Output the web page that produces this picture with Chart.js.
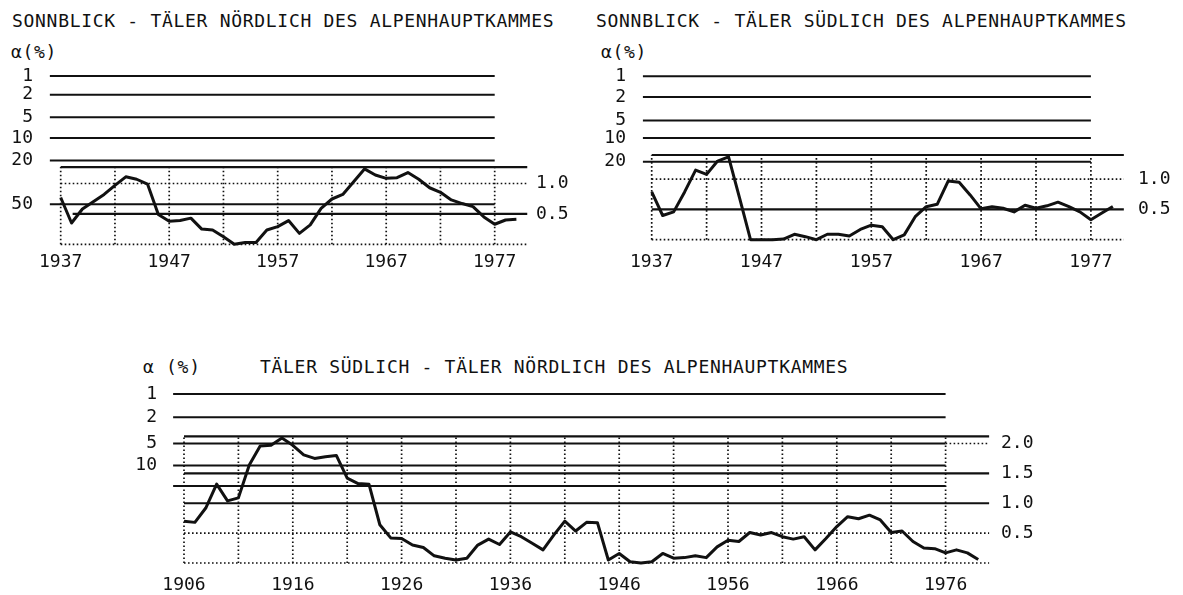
<!DOCTYPE html>
<html lang="de">
<head>
<meta charset="UTF-8">
<title>Sonnblick - Täler nördlich und südlich des Alpenhauptkammes</title>
<style>
  body { margin: 0; background: #fff; }
  #page { position: relative; width: 1183px; height: 595px; overflow: hidden; background: #fff; }
  canvas { position: absolute; }
  .txt {
    position: absolute;
    font-family: "DejaVu Sans Mono", monospace;
    font-size: 18px;
    line-height: 18px;
    color: #111;
    white-space: pre;
    letter-spacing: 0.7px;
  }
</style>
</head>
<body>
<div id="page">
  <div class="txt" style="left:12px; top:12px;">SONNBLICK - TÄLER NÖRDLICH DES ALPENHAUPTKAMMES</div>
  <div class="txt" style="left:11px; top:43px;">α(%)</div>
  <div class="txt" style="left:596px; top:12px;">SONNBLICK - TÄLER SÜDLICH DES ALPENHAUPTKAMMES</div>
  <div class="txt" style="left:601px; top:43px;">α(%)</div>
  <div class="txt" style="left:143px; top:358px;">α (%)</div>
  <div class="txt" style="left:260px; top:358px;">TÄLER SÜDLICH - TÄLER NÖRDLICH DES ALPENHAUPTKAMMES</div>
  <canvas id="tl"></canvas>
  <canvas id="tr"></canvas>
  <canvas id="bottom"></canvas>
</div>

<script src="https://cdn.jsdelivr.net/npm/chart.js@4"></script>
<script>
  // ---- data: Sonnblick panels (1937-1979) ----
  const yearsTop = [1937, 1938, 1939, 1940, 1941, 1942, 1943, 1944, 1945, 1946,
                    1947, 1948, 1949, 1950, 1951, 1952, 1953, 1954, 1955, 1956,
                    1957, 1958, 1959, 1960, 1961, 1962, 1963, 1964, 1965, 1966,
                    1967, 1968, 1969, 1970, 1971, 1972, 1973, 1974, 1975, 1976,
                    1977, 1978, 1979];

  const northValues = [0.77, 0.35, 0.58, 0.70, 0.82, 0.97, 1.11, 1.07, 0.99, 0.49,
                       0.38, 0.39, 0.43, 0.25, 0.235, 0.125, 0.0, 0.03, 0.03, 0.235,
                       0.29, 0.39, 0.18, 0.32, 0.59, 0.745, 0.82, 1.03, 1.24, 1.14,
                       1.085, 1.095, 1.18, 1.07, 0.93, 0.855, 0.73, 0.67, 0.62, 0.45,
                       0.33, 0.40, 0.41];

  const southValues = [0.79, 0.40, 0.46, 0.79, 1.15, 1.08, 1.30, 1.37, 0.69, 0.0,
                       0.0, 0.0, 0.01, 0.09, 0.05, 0.0, 0.09, 0.09, 0.06, 0.17,
                       0.24, 0.215, 0.0, 0.08, 0.38, 0.545, 0.585, 0.97, 0.95, 0.74,
                       0.51, 0.545, 0.52, 0.46, 0.57, 0.52, 0.56, 0.62, 0.545, 0.46,
                       0.33, 0.44, 0.55];

  // ---- data: Täler südlich - Täler nördlich (1906-1979) ----
  const yearsBottom = [1906, 1907, 1908, 1909, 1910, 1911, 1912, 1913, 1914, 1915,
                       1916, 1917, 1918, 1919, 1920, 1921, 1922, 1923, 1924, 1925,
                       1926, 1927, 1928, 1929, 1930, 1931, 1932, 1933, 1934, 1935,
                       1936, 1937, 1938, 1939, 1940, 1941, 1942, 1943, 1944, 1945,
                       1946, 1947, 1948, 1949, 1950, 1951, 1952, 1953, 1954, 1955,
                       1956, 1957, 1958, 1959, 1960, 1961, 1962, 1963, 1964, 1965,
                       1966, 1967, 1968, 1969, 1970, 1971, 1972, 1973, 1974, 1975,
                       1976, 1977, 1978, 1979];

  const diffValues = [0.70, 0.68, 0.92, 1.32, 1.04, 1.09, 1.64, 1.96, 1.97, 2.09,
                      1.97, 1.81, 1.75, 1.78, 1.80, 1.42, 1.33, 1.32, 0.64, 0.42,
                      0.41, 0.30, 0.26, 0.12, 0.08, 0.05, 0.08, 0.30, 0.40, 0.31,
                      0.52, 0.44, 0.33, 0.22, 0.47, 0.70, 0.535, 0.68, 0.675, 0.05,
                      0.16, 0.02, 0.0, 0.02, 0.16, 0.08, 0.09, 0.12, 0.09, 0.27,
                      0.38, 0.36, 0.51, 0.47, 0.51, 0.44, 0.40, 0.44, 0.22, 0.41,
                      0.61, 0.775, 0.74, 0.80, 0.72, 0.51, 0.535, 0.36, 0.25, 0.24,
                      0.17, 0.22, 0.17, 0.06];

  // ---- significance levels (left labels) and reference lines ----
  const northAlphaLabels = ['1', '2', '5', '10', '20', '50'];
  const northAlphaLevels = [2.77, 2.46, 2.09, 1.75, 1.38, 0.66];
  const northAlphaSpan = [1936.0, 1977];
  const northSolidLevels = [1.27, 0.5];
  const northSolidFrom = [1937, 1938.1];
  const northSolidTo = [1980, 1980];

  const southAlphaLabels = ['1', '2', '5', '10', '20'];
  const southAlphaLevels = [2.70, 2.36, 1.97, 1.68, 1.29];
  const southAlphaSpan = [1936.2, 1977];
  const southSolidLevels = [1.40, 0.5];
  const southSolidFrom = [1937, 1937];
  const southSolidTo = [1980, 1980];

  const diffAlphaLabels = ['1', '2', '5', '10'];
  const diffAlphaLevels = [2.83, 2.44, 2.0, 1.63];
  const diffExtraLevels = [1.29];
  const diffAlphaSpan = [1905, 1976];
  const diffSolidLevels = [2.12, 1.5, 1.0];
  const diffSolidFrom = [1906, 1906, 1906];
  const diffSolidTo = [1980, 1980, 1980];

  // dotted grid
  const topDottedLevels = [1.0, 0];
  const topGridYears = [1937, 1942, 1947, 1952, 1957, 1962, 1967, 1972, 1977];
  const diffDottedLevels = [2.0, 0.5, 0];
  const diffDottedFrom = [1976, 1906, 1906];
  const diffGridYears = [1906, 1911, 1916, 1921, 1926, 1931, 1936, 1941, 1946,
                         1951, 1956, 1961, 1966, 1971, 1976];

  // tick labels
  const topYearLabels = [1937, 1947, 1957, 1967, 1977];
  const diffYearLabels = [1906, 1916, 1926, 1936, 1946, 1956, 1966, 1976];
  const topRightTicks = [0.5, 1.0];
  const diffRightTicks = [0.5, 1.0, 1.5, 2.0];

  const INK = '#111';
  const FONT = { family: 'DejaVu Sans Mono', size: 18 };

  function seg(x1, x2, y1, y2, width, dash) {
    return {
      data: [{ x: x1, y: y1 }, { x: x2, y: y2 }],
      borderColor: INK,
      borderWidth: width,
      borderDash: dash || [],
      borderCapStyle: 'butt',
      pointRadius: 0,
      yAxisID: 'y'
    };
  }

  // no extra label padding from the scales, so the plot area is exactly where we put it
  function noPad(s) {
    s.paddingTop = 0; s.paddingBottom = 0; s.paddingLeft = 0; s.paddingRight = 0;
  }

  function makePanel(id, g, p) {
    const cv = document.getElementById(id);
    cv.width = g.w;
    cv.height = g.h;
    cv.style.left = g.left + 'px';
    cv.style.top = g.top + 'px';

    const xmin = g.x0 + (g.cl - g.px0) / g.ppx;
    const xmax = g.x0 + (g.cr - g.px0) / g.ppx;
    const ymax = (g.py0 - g.ct) / g.ppu;
    const ymin = (g.py0 - g.cb) / g.ppu;

    const datasets = [{
      data: p.years.map((yr, i) => ({ x: yr, y: p.values[i] })),
      borderColor: INK,
      borderWidth: 3,
      borderJoinStyle: 'round',
      pointRadius: 0,
      tension: 0,
      yAxisID: 'y'
    }];

    p.alphaLevels.forEach(v => datasets.push(seg(p.alphaSpan[0], p.alphaSpan[1], v, v, 2)));
    (p.extraLevels || []).forEach(v => datasets.push(seg(p.alphaSpan[0], p.alphaSpan[1], v, v, 2)));
    p.solidLevels.forEach((v, i) => datasets.push(seg(p.solidFrom[i], p.solidTo[i], v, v, 2.2)));
    p.dottedLevels.forEach((v, i) => datasets.push(seg(p.dottedFrom[i], p.boxRight, v, v, 1.7, [1.6, 2.4])));
    p.gridYears.forEach(yr => datasets.push(seg(yr, yr, 0, p.boxTop, 1.7, [1.6, 2.4])));

    new Chart(cv, {
      type: 'line',
      data: { datasets },
      options: {
        responsive: false,
        animation: false,
        devicePixelRatio: 1,
        layout: { padding: { top: g.ct - g.top, left: 0, right: 0, bottom: 0 } },
        plugins: { legend: { display: false }, tooltip: { enabled: false } },
        scales: {
          x: {
            type: 'linear', position: 'bottom', min: xmin, max: xmax,
            grid: { display: false, drawTicks: false }, border: { display: false },
            afterBuildTicks: s => { s.ticks = p.yearLabels.map(v => ({ value: v })); },
            afterFit: s => { s.height = g.top + g.h - g.cb; noPad(s); },
            ticks: { autoSkip: false, maxRotation: 0, padding: g.xPad, color: INK, font: FONT,
                     callback: v => String(v) }
          },
          y: {
            type: 'linear', position: 'left', min: ymin, max: ymax,
            grid: { display: false, drawTicks: false }, border: { display: false },
            afterBuildTicks: s => { s.ticks = p.alphaLevels.map(v => ({ value: v })); },
            afterFit: s => { s.width = g.cl - g.left; noPad(s); },
            ticks: { autoSkip: false, padding: g.leftPad, color: INK, font: FONT,
                     callback: (v, i) => p.alphaLabels[i] }
          },
          y2: {
            type: 'linear', position: 'right', min: ymin, max: ymax,
            grid: { display: false, drawTicks: false }, border: { display: false },
            afterBuildTicks: s => { s.ticks = p.rightTicks.map(v => ({ value: v })); },
            afterFit: s => { s.width = g.left + g.w - g.cr; noPad(s); },
            ticks: { autoSkip: false, padding: g.rightPad, color: INK, font: FONT,
                     callback: v => v.toFixed(1) }
          }
        }
      }
    });
  }

  makePanel('tl',
    { left: 0, top: 55, w: 590, h: 230, cl: 44, ct: 62, cr: 530, cb: 250,
      x0: 1937, px0: 60.7, ppx: 10.85, py0: 244.3, ppu: 60.8,
      leftPad: 11, rightPad: 6, xPad: 2 },
    { years: yearsTop, values: northValues,
      alphaLabels: northAlphaLabels, alphaLevels: northAlphaLevels, alphaSpan: northAlphaSpan,
      solidLevels: northSolidLevels, solidFrom: northSolidFrom, solidTo: northSolidTo,
      dottedLevels: topDottedLevels, dottedFrom: [1937, 1937], boxRight: 1980,
      gridYears: topGridYears, boxTop: northSolidLevels[0],
      yearLabels: topYearLabels, rightTicks: topRightTicks });

  makePanel('tr',
    { left: 590, top: 55, w: 593, h: 230, cl: 633, ct: 62, cr: 1130, cb: 246,
      x0: 1937, px0: 651.7, ppx: 10.98, py0: 239.7, ppu: 60.5,
      leftPad: 7, rightPad: 8, xPad: 6 },
    { years: yearsTop, values: southValues,
      alphaLabels: southAlphaLabels, alphaLevels: southAlphaLevels, alphaSpan: southAlphaSpan,
      solidLevels: southSolidLevels, solidFrom: southSolidFrom, solidTo: southSolidTo,
      dottedLevels: topDottedLevels, dottedFrom: [1937, 1937], boxRight: 1980,
      gridYears: topGridYears, boxTop: southSolidLevels[0],
      yearLabels: topYearLabels, rightTicks: topRightTicks });

  makePanel('bottom',
    { left: 100, top: 375, w: 1083, h: 220, cl: 162, ct: 385, cr: 995, cb: 570,
      x0: 1906, px0: 184, ppx: 10.88, py0: 563, ppu: 59.75,
      leftPad: 5, rightPad: 6, xPad: 5 },
    { years: yearsBottom, values: diffValues,
      alphaLabels: diffAlphaLabels, alphaLevels: diffAlphaLevels, alphaSpan: diffAlphaSpan,
      extraLevels: diffExtraLevels,
      solidLevels: diffSolidLevels, solidFrom: diffSolidFrom, solidTo: diffSolidTo,
      dottedLevels: diffDottedLevels, dottedFrom: diffDottedFrom, boxRight: 1980,
      gridYears: diffGridYears, boxTop: diffSolidLevels[0],
      yearLabels: diffYearLabels, rightTicks: diffRightTicks });
</script>
</body>
</html>
